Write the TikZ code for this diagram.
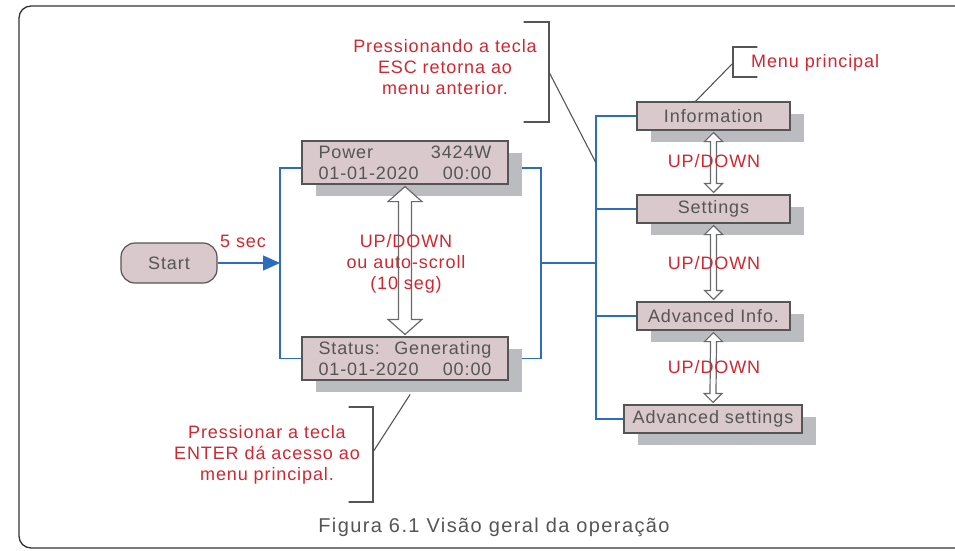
\documentclass[tikz,border=0pt]{standalone}
\usepackage{fontspec}
\setmainfont[LetterSpace=5]{Liberation Sans}
\newfontfamily\captionfont[LetterSpace=7]{Liberation Sans}
\usetikzlibrary{calc,arrows.meta,shadows,backgrounds}

% hollow up/down arrow between two stacked boxes:
% #1 upper node, #2 lower node, #3 shaft half width, #4 head half width, #5 head length
\newcommand{\hollowupdown}[5]{%
  \draw[hollow] ($(#1.south)+(0,2)$) -- ++(#4,#5) -- ++(#3-#4,0)
    -- ($(#2.north)+(#3,-2-#5)$) -- ++(#4-#3,0) -- ($(#2.north)+(0,-2)$)
    -- ++(-#4,-#5) -- ++(#4-#3,0) -- ($(#1.south)+(-#3,2+#5)$)
    -- ++(#3-#4,0) -- cycle;}

\begin{document}
\begin{tikzpicture}[x=1pt, y=-1pt, font=\fontsize{18}{21}\selectfont, line cap=round,
      >={Triangle[length=17pt,width=15pt]}, every node/.style={inner sep=1pt},
      panel/.style={draw=edgegray, line width=1.2pt, fill=boxpink, text=textgray},
      box/.style={panel, drop shadow={shadow xshift=14pt, shadow yshift=-12pt,
          fill=shadegray, opacity=1}},
      screen/.style={box, minimum width=206pt, minimum height=43pt,
          text width=173pt, align=left},
      menu/.style={box, minimum width=153pt, minimum height=28pt},
      link/.style={draw=linkblue, line width=1.4pt},
      note/.style={text=notered, align=center},
      bracket/.style={draw=edgegray, line width=1.1pt},
      hollow/.style={draw=arrowgray, line width=1.2pt, fill=white}]
    \definecolor{boxpink}{RGB}{217,201,205}
    \definecolor{shadegray}{RGB}{187,188,192}
    \definecolor{edgegray}{RGB}{85,85,85}
    \definecolor{textgray}{RGB}{85,85,85}
    \definecolor{arrowgray}{RGB}{105,105,105}
    \definecolor{notered}{RGB}{210,38,48}
    \definecolor{linkblue}{RGB}{44,110,190}
    \clip (0,0) rectangle (955,550);
    % ==== outer frame ====
    \draw[line width=1.3pt, black!80, rounded corners=12pt] (19,6) rectangle (975,548);
    % ==== start and the two screens ====
    \node[panel, rounded corners=14pt, minimum width=96pt, minimum height=40pt]
      (start) at (169,263) {Start};
    \node[screen] (power) at (405,162.5) {Power\hfill 3424W\\01-01-2020\hfill 00:00};
    \node[screen] (status) at (405,358.5) {Status:\hfill Generating\\01-01-2020\hfill 00:00};
    \coordinate (split) at (280,263);
    \coordinate (join) at (541,263);
    % ==== main menu ====
    \node[menu] (info) at (713.5,116) {Information};
    \node[menu] (settings) at (713.5,209) {Settings};
    \node[menu] (advinfo) at (713.5,316) {Advanced Info.};
    \node[menu, minimum width=178pt] (advset) at (713,419) {Advanced settings};
    \coordinate (bustop) at (596,116);
    % blue connectors under the shadows
    \begin{pgfonlayer}{background}
      \draw[link,->] (start) -- (split);
      \draw[link] ([yshift=-5.5pt]power.west) -| (split) |- (status.west);
      \draw[link] ([yshift=-5.5pt]power.east) -| (join) |- (status.east);
      \draw[link] (join) -- (join -| bustop);
      \draw[link] (info.west) -- (bustop) |- (advset.west);
      \draw[link] (settings.west) -- (settings.west -| bustop);
      \draw[link] (advinfo.west) -- (advinfo.west -| bustop);
    \end{pgfonlayer}
    % ==== hollow up/down arrows ====
    \hollowupdown{power}{status}{6.5}{17}{15}
    \hollowupdown{info}{settings}{3}{9}{9}
    \hollowupdown{settings}{advinfo}{3}{9}{9}
    \hollowupdown{advinfo}{advset}{3}{9}{9}
    % ==== red labels ====
    \node[note] (fivesec) at (243,241) {5 sec};
    \node[note] (scrolllbl) at (406,264) {UP/DOWN\\ou auto-scroll\\(10 seg)};
    \node[note] (updown1) at (714,161) {UP/DOWN};
    \node[note] (updown2) at (714,263) {UP/DOWN};
    \node[note] (updown3) at (714,367) {UP/DOWN};
    % ==== callouts ====
    \node[note] (escnote) at (445,67) {Pressionando a tecla\\ESC retorna ao\\menu anterior.};
    \coordinate (escmid) at (549,72);
    \coordinate (escpt) at (596,163);
    \draw[bracket] (524,22) -- (549,22) -- (549,122) -- (524,122);
    \draw[bracket] (escmid) -- (escpt);
    \node[note, anchor=west] (menunote) at (750,63) {Menu principal};
    \coordinate (menumid) at (733,63);
    \draw[bracket] (757,47) -- (733,47) -- (733,77) -- (757,77);
    \draw[bracket] (menumid) -- ([xshift=-18pt]info.north);
    \node[note] (enternote) at (267,454.5) {Pressionar a tecla\\ENTER dá acesso ao\\menu principal.};
    \coordinate (entermid) at (373,452);
    \draw[bracket] (349,407) -- (373,407) -- (373,502) -- (349,502);
    \draw[bracket] (entermid) -- ([xshift=5pt,yshift=-14pt]status.south);
    % ==== caption ====
    \node[text=textgray, font=\captionfont\fontsize{20}{24}\selectfont] (caption)
      at (494,527) {Figura 6.1 Visão geral da operação};
  \end{tikzpicture}
\end{document}
